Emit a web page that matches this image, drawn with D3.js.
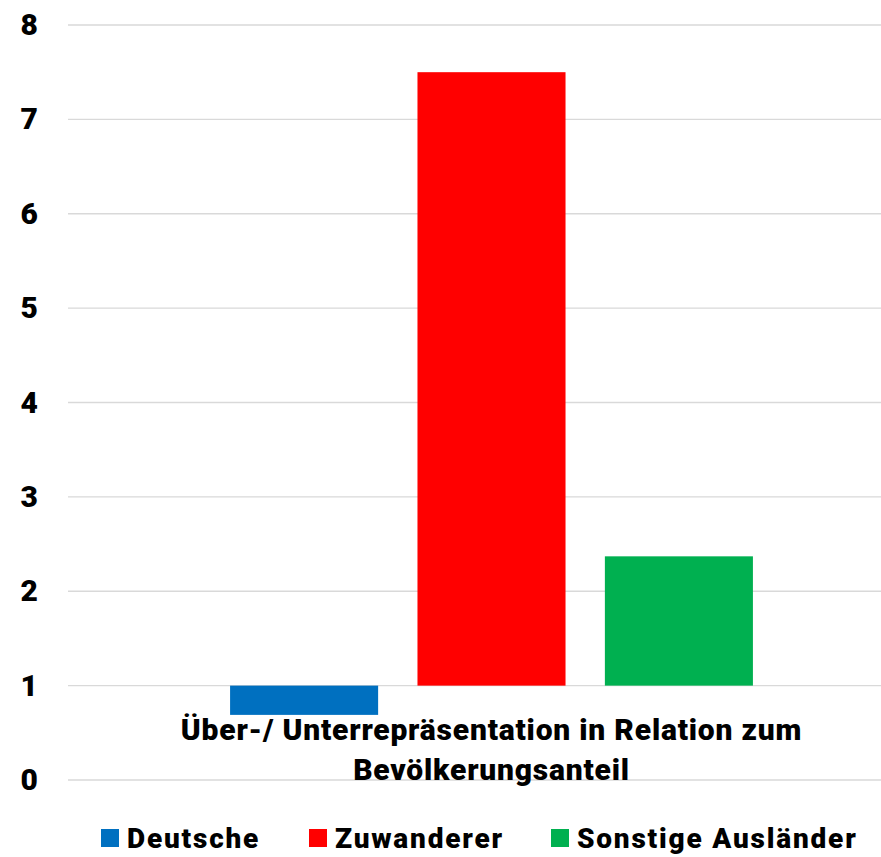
<!DOCTYPE html>
<html>
<head>
<meta charset="utf-8">
<script src="https://cdn.jsdelivr.net/npm/d3@7"></script>
<style>
  body { margin: 0; background: #fff; }
  text { font-family: Roboto, "Liberation Sans", sans-serif; font-weight: 900; fill: #000; }
</style>
</head>
<body>
<script>
// data
var categories = ["Über-/ Unterrepräsentation in Relation zum Bevölkerungsanteil"];
var categoryLines = ["Über-/ Unterrepräsentation in Relation zum", "Bevölkerungsanteil"];
var seriesNames = ["Deutsche", "Zuwanderer", "Sonstige Ausländer"];
var seriesValues = [0.69, 7.5, 2.37];
var seriesColors = ["#0070c0", "#ff0000", "#00b050"];
var yTicks = [0, 1, 2, 3, 4, 5, 6, 7, 8];
var baseline = 1;

var w = 881, h = 857;
var margin = {top: 25, left: 68, bottom: 77};

var svg = d3.select("body")
    .append("svg")
    .attr("width", w)
    .attr("height", h);

var y = d3.scaleLinear()
    .domain([0, 8])
    .range([h - margin.bottom, margin.top]);

var x0 = d3.scaleBand()
    .domain(categories)
    .range([margin.left, 915])
    .paddingOuter(0.31);

var x1 = d3.scaleBand()
    .domain(seriesNames)
    .range([0, x0.bandwidth()])
    .paddingInner(0.21)
    .paddingOuter(0);

// gridlines
svg.append("g")
    .selectAll("line")
    .data(yTicks)
    .enter()
    .append("line")
    .attr("x1", margin.left)
    .attr("x2", w)
    .attr("y1", function (d) { return y(d); })
    .attr("y2", function (d) { return y(d); })
    .attr("stroke", "#d9d9d9")
    .attr("stroke-width", 1.3);

// y axis labels
var yAxis = svg.append("g")
    .attr("transform", "translate(" + margin.left + ",0)")
    .call(d3.axisLeft(y).tickValues(yTicks).tickFormat(d3.format("d")).tickSize(0).tickPadding(30));
yAxis.select(".domain").remove();
yAxis.selectAll("text")
    .attr("font-size", 30)
    .attr("font-family", "Roboto, sans-serif")
    .attr("font-weight", 900)
    .attr("fill", "#000");

// bars
var group = svg.append("g")
    .attr("transform", "translate(" + x0(categories[0]) + ",0)");

group.selectAll("rect")
    .data(seriesValues)
    .enter()
    .append("rect")
    .attr("x", function (d, i) { return x1(seriesNames[i]); })
    .attr("width", x1.bandwidth())
    .attr("y", function (d) { return Math.min(y(d), y(baseline)); })
    .attr("height", function (d) { return Math.abs(y(d) - y(baseline)); })
    .attr("fill", function (d, i) { return seriesColors[i]; });

// category label
var cx = x0(categories[0]) + x0.bandwidth() / 2;
svg.append("g")
    .selectAll("text")
    .data(categoryLines)
    .enter()
    .append("text")
    .attr("x", cx)
    .attr("y", function (d, i) { return 740 + i * 40; })
    .attr("text-anchor", "middle")
    .attr("font-size", 30)
    .attr("letter-spacing", 0.8)
    .text(function (d) { return d; });

// legend
var legendX = [101, 309, 551];
var legend = svg.append("g")
    .selectAll("g")
    .data(seriesNames)
    .enter()
    .append("g")
    .attr("transform", function (d, i) { return "translate(" + legendX[i] + ",829)"; });

legend.append("rect")
    .attr("width", 18)
    .attr("height", 18)
    .attr("fill", function (d, i) { return seriesColors[i]; });

legend.append("text")
    .attr("x", 26)
    .attr("y", 19)
    .attr("font-size", 28)
    .attr("letter-spacing", 1.8)
    .text(function (d) { return d; });
</script>
</body>
</html>
